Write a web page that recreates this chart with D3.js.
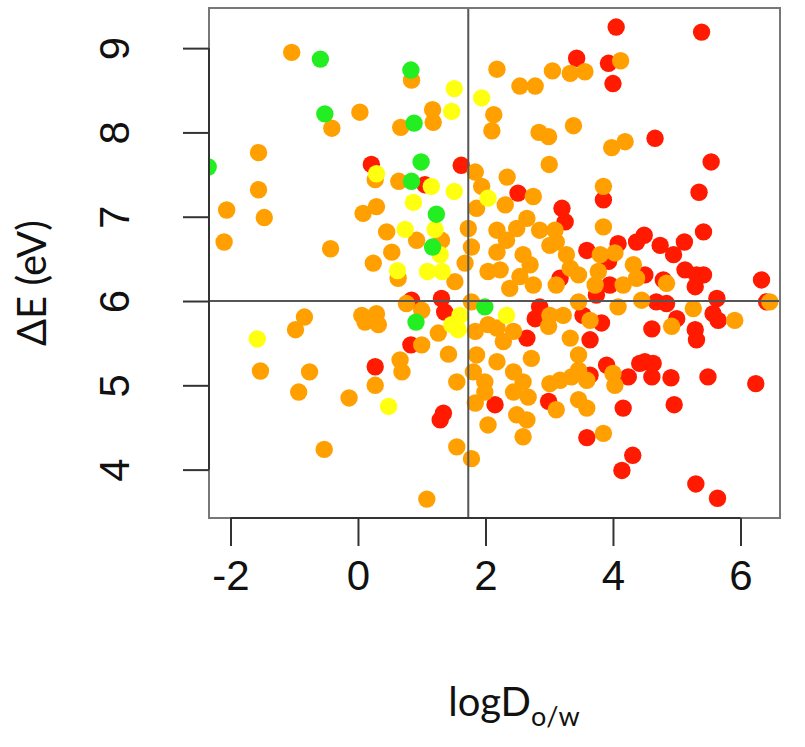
<!DOCTYPE html>
<html>
<head>
<meta charset="utf-8">
<script src="https://cdn.jsdelivr.net/npm/d3@7"></script>
<style>
  html, body { margin: 0; padding: 0; background: #fff; }
  svg { display: block; }
</style>
</head>
<body>
<div id="chart"></div>
<script>
'use strict';

// [logD o/w, deltaE (eV)] per colour group
var red_points = [
    [0.21, 7.62], [1.62, 7.61], [1.05, 7.38], [4.05, 9.25], [3.43, 8.88], [3.93, 8.82],
    [4.00, 8.58], [5.39, 9.19], [4.66, 7.93], [5.54, 7.65], [2.51, 7.28], [3.20, 7.10],
    [3.25, 6.94], [3.85, 7.20], [4.37, 6.70], [3.59, 6.60], [4.08, 6.68], [3.93, 6.47],
    [3.17, 6.27], [3.95, 6.19], [3.74, 6.07], [2.85, 5.93], [2.78, 5.79], [3.53, 5.83],
    [3.82, 5.74], [2.65, 5.56], [3.64, 5.54], [5.35, 7.29], [4.49, 6.78], [5.42, 6.82],
    [4.74, 6.66], [5.12, 6.70], [4.95, 6.55], [5.13, 6.37], [5.31, 6.31], [5.42, 6.31],
    [5.29, 6.17], [4.50, 6.31], [4.79, 6.25], [4.68, 5.99], [4.84, 5.97], [5.63, 6.03],
    [5.57, 5.85], [5.65, 5.77], [5.00, 5.79], [4.61, 5.67], [5.29, 5.66], [5.31, 5.54],
    [6.33, 6.25], [6.41, 5.99], [0.84, 6.01], [1.36, 5.87], [1.31, 6.03], [0.83, 5.48],
    [0.27, 5.22], [1.34, 4.67], [1.29, 4.59], [2.15, 4.77], [3.64, 5.12], [2.99, 4.81],
    [3.59, 4.38], [3.90, 5.24], [4.24, 5.10], [4.16, 4.73], [4.31, 4.17], [4.14, 3.99],
    [4.42, 5.26], [4.50, 5.28], [4.63, 5.26], [4.61, 5.10], [4.91, 5.09], [5.49, 5.10],
    [6.24, 5.02], [4.96, 4.77], [5.30, 3.83], [5.64, 3.66]
];

var orange_points = [
    [-1.04, 8.95], [-0.41, 8.05], [-1.56, 7.76], [0.84, 8.62], [2.18, 8.75], [0.03, 8.24],
    [1.17, 8.27], [1.18, 8.12], [0.67, 8.06], [2.13, 8.21], [2.10, 8.02], [1.84, 7.53],
    [3.33, 8.70], [3.56, 8.72], [3.05, 8.73], [2.54, 8.55], [2.78, 8.55], [4.12, 8.85],
    [3.38, 8.08], [2.84, 8.00], [2.99, 7.95], [3.98, 7.82], [4.19, 7.89], [3.00, 7.62],
    [2.34, 7.47], [3.85, 7.36], [-1.56, 7.32], [-2.06, 7.08], [-1.47, 6.99], [-2.10, 6.70],
    [-0.43, 6.62], [-0.84, 5.81], [-0.98, 5.66], [0.27, 7.44], [0.64, 7.42], [1.94, 7.36],
    [0.08, 7.04], [0.29, 7.12], [1.86, 7.10], [0.45, 6.82], [0.92, 6.72], [1.31, 6.72],
    [1.73, 6.86], [0.53, 6.58], [0.24, 6.45], [0.63, 6.27], [1.52, 6.23], [1.68, 6.45],
    [1.78, 6.64], [2.04, 6.35], [0.06, 5.83], [0.29, 5.85], [0.32, 5.72], [0.11, 5.75],
    [0.76, 5.97], [1.00, 5.89], [1.78, 5.99], [2.04, 5.72], [1.84, 5.64], [1.26, 5.62],
    [1.00, 5.48], [2.75, 7.24], [2.31, 7.14], [3.85, 6.88], [3.80, 6.55], [4.03, 6.57],
    [4.32, 6.43], [2.65, 6.98], [2.49, 6.86], [2.18, 6.84], [2.33, 6.72], [2.85, 6.84],
    [3.09, 6.84], [3.11, 6.70], [3.27, 6.55], [3.33, 6.39], [3.46, 6.31], [3.01, 6.66],
    [2.59, 6.55], [2.70, 6.43], [2.54, 6.29], [2.75, 6.19], [2.23, 6.37], [2.18, 6.58],
    [2.38, 6.15], [3.11, 6.19], [3.77, 6.35], [3.72, 6.19], [4.16, 6.19], [4.37, 6.27],
    [3.46, 5.99], [3.01, 5.83], [3.22, 5.83], [2.99, 5.70], [3.64, 5.77], [4.08, 5.93],
    [2.18, 5.68], [2.44, 5.64], [3.33, 5.56], [2.28, 5.52], [4.84, 6.21], [4.45, 6.01],
    [5.26, 5.91], [5.91, 5.77], [4.92, 5.70], [6.46, 5.99], [-1.53, 5.17], [-0.76, 5.16],
    [-0.93, 4.92], [-0.14, 4.85], [-0.53, 4.24], [1.42, 5.37], [0.66, 5.30], [0.69, 5.16],
    [0.27, 5.00], [1.55, 5.04], [1.86, 5.36], [1.81, 5.16], [1.99, 5.04], [1.99, 4.92],
    [1.84, 4.79], [2.04, 4.53], [1.55, 4.27], [1.78, 4.13], [1.08, 3.65], [2.18, 5.28],
    [2.44, 5.16], [2.59, 5.04], [2.44, 4.92], [2.67, 4.86], [2.72, 5.32], [3.01, 5.02],
    [3.17, 5.06], [3.46, 5.36], [3.46, 5.18], [3.59, 5.06], [3.35, 5.10], [3.11, 4.71],
    [3.46, 4.83], [3.59, 4.73], [2.49, 4.65], [2.65, 4.59], [2.59, 4.39], [3.85, 4.43],
    [4.00, 5.14], [4.03, 5.00]
];

var yellow_points = [
    [1.51, 8.52], [1.94, 8.41], [1.47, 8.25], [0.29, 7.51], [1.15, 7.36], [1.51, 7.30],
    [2.04, 7.22], [0.87, 7.17], [0.74, 6.85], [1.21, 6.85], [1.29, 6.55], [0.62, 6.36],
    [1.09, 6.35], [1.32, 6.35], [1.47, 5.72], [1.60, 5.83], [1.57, 5.66], [2.33, 5.83],
    [-1.58, 5.55], [0.48, 4.75]
];

var green_points = [
    [-2.35, 7.59], [-0.59, 8.87], [-0.52, 8.22], [0.83, 8.74], [0.88, 8.11], [0.99, 7.65],
    [0.84, 7.42], [1.23, 7.03], [1.17, 6.64], [0.91, 5.75], [1.99, 5.93]
];

var x_ticks = [-2, 0, 2, 4, 6],
    y_ticks = [4, 5, 6, 7, 8, 9],
    x_cut = 1.73,
    y_cut = 6;

var width = 805,
    height = 747,
    box = {left: 209, right: 780, top: 8, bottom: 518};

var x = d3.scaleLinear().domain([-2.337, 6.62]).range([box.left, box.right]),
    y = d3.scaleLinear().domain([3.426, 9.476]).range([box.bottom, box.top]);

var svg = d3.select('#chart')
    .append('svg')
    .attr('width', width)
    .attr('height', height);

svg.append('clipPath').attr('id', 'plot_clip')
    .append('rect')
    .attr('x', box.left)
    .attr('y', box.top)
    .attr('width', box.right - box.left)
    .attr('height', box.bottom - box.top);

// points, drawn group by group
var groups = [
    {pts: red_points, color: '#ff1a00'},
    {pts: orange_points, color: '#ffa000'},
    {pts: yellow_points, color: '#ffff10'},
    {pts: green_points, color: '#22ee22'}
];

var dots = svg.append('g').attr('clip-path', 'url(#plot_clip)');
groups.forEach(function(g) {
    dots.selectAll(null)
        .data(g.pts)
        .enter()
        .append('circle')
        .attr('cx', function(d) { return x(d[0]); })
        .attr('cy', function(d) { return y(d[1]); })
        .attr('r', 8.7)
        .attr('fill', g.color);
});

// cut lines
svg.append('line')
    .attr('x1', x(x_cut)).attr('x2', x(x_cut))
    .attr('y1', box.top).attr('y2', box.bottom)
    .attr('stroke', '#555').attr('stroke-width', 2);
svg.append('line')
    .attr('x1', box.left).attr('x2', box.right)
    .attr('y1', y(y_cut)).attr('y2', y(y_cut))
    .attr('stroke', '#555').attr('stroke-width', 2);

// frame
svg.append('rect')
    .attr('x', box.left)
    .attr('y', box.top)
    .attr('width', box.right - box.left)
    .attr('height', box.bottom - box.top)
    .attr('fill', 'none')
    .attr('stroke', '#777')
    .attr('stroke-width', 2);

// axes, R style: axis line only between first and last tick
var x_axis = d3.axisBottom(x).tickValues(x_ticks).tickSize(28).tickSizeOuter(0).tickPadding(14)
    .tickFormat(function(d) { return d < 0 ? '-' + Math.abs(d) : d; });
var y_axis = d3.axisLeft(y).tickValues(y_ticks).tickSize(26).tickSizeOuter(0).tickPadding(0)
    .tickFormat(d3.format('d'));

var gx = svg.append('g')
    .attr('transform', 'translate(0,' + box.bottom + ')')
    .call(x_axis);
var gy = svg.append('g')
    .attr('transform', 'translate(' + box.left + ',0)')
    .call(y_axis);

gx.select('.domain').remove();
gy.select('.domain').remove();
gx.append('line')
    .attr('x1', x(x_ticks[0])).attr('x2', x(x_ticks[x_ticks.length - 1]))
    .attr('stroke', '#333').attr('stroke-width', 2);
gy.append('line')
    .attr('y1', y(y_ticks[0])).attr('y2', y(y_ticks[y_ticks.length - 1]))
    .attr('stroke', '#333').attr('stroke-width', 2);

[gx, gy].forEach(function(g) {
    g.selectAll('.tick line').attr('stroke', '#333').attr('stroke-width', 2);
    g.selectAll('.tick text')
        .attr('fill', '#111')
        .style('font-family', '"Liberation Sans", Arial, sans-serif')
        .style('font-size', '42px');
});

gy.selectAll('.tick text')
    .attr('x', 0)
    .attr('dy', 0)
    .attr('text-anchor', 'middle')
    .attr('transform', 'translate(-94,0) rotate(-90) translate(0,14)');

// titles
svg.append('text')
    .attr('transform', 'translate(46,283) rotate(-90)')
    .attr('text-anchor', 'middle')
    .style('font-family', 'Lato, "Open Sans", sans-serif')
    .style('font-size', '40px')
    .attr('fill', '#111')
    .text('ΔE (eV)');

var xt = svg.append('text')
    .attr('x', 514)
    .attr('y', 716)
    .attr('text-anchor', 'middle')
    .style('font-family', 'Lato, "Open Sans", sans-serif')
    .style('font-size', '40px')
    .attr('fill', '#111');
xt.append('tspan').text('logD');
xt.append('tspan')
    .attr('dy', 10)
    .style('font-size', '27px')
    .text('o/w');
</script>
</body>
</html>
